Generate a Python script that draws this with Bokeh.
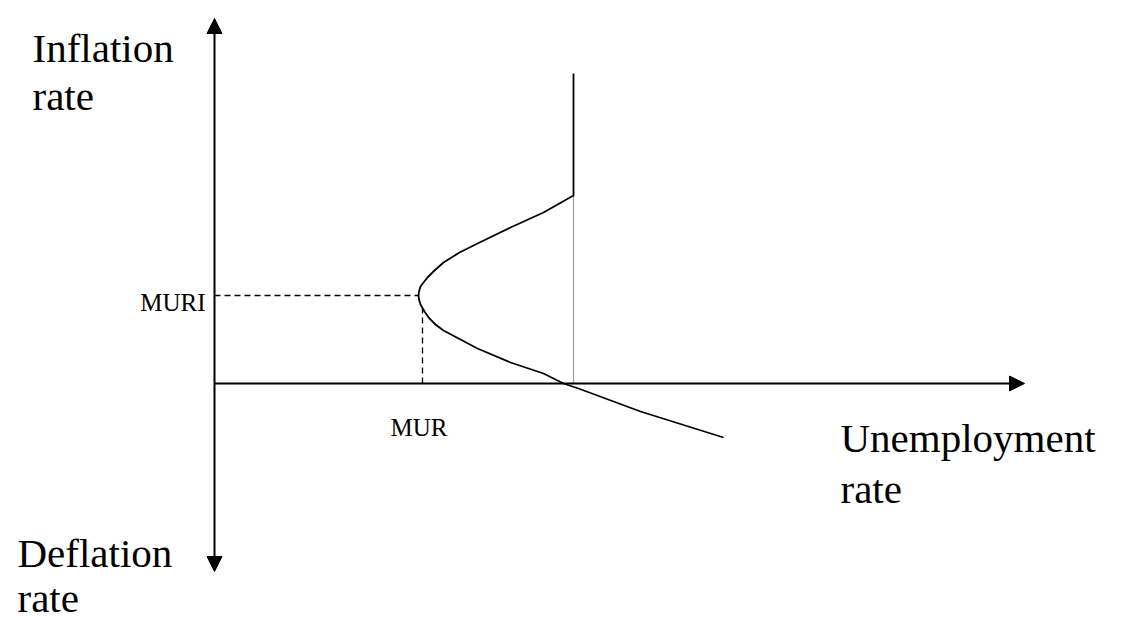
from bokeh.plotting import figure
from bokeh.models import Range1d, Arrow, NormalHead
from bokeh.core.properties import value
from bokeh.embed import file_html
from bokeh.resources import INLINE

# Curve (unemployment, inflation), origin at axes crossing
curve_u = [509, 426, 364, 349, 329, 296, 263, 229, 221, 215, 210, 206, 204.5, 204,
           204.5, 206, 209, 213, 220, 229, 245, 263, 296, 329, 359, 359]
curve_pi = [-54, -28, -5, 0, 10, 21, 35, 53, 59, 65, 72, 79, 84, 88,
            92, 97, 101, 106, 113, 121, 131, 140, 156, 171, 188, 310]

MUR = 208
MURI = 88
vertex_u = 204
kink_u = 359
kink_pi = 188

axis_top = 365
axis_bottom = -188
axis_right = 810

FONT = value("Liberation Serif")

p = figure(width=1136, height=621, output_backend="svg", toolbar_location=None,
           x_range=Range1d(-214, 922), y_range=Range1d(-238, 383), min_border=0)
p.axis.visible = False
p.grid.visible = False
p.outline_line_color = None
p.background_fill_color = "white"

# axes with arrows
p.add_layout(Arrow(x_start=0, y_start=axis_bottom, x_end=0, y_end=axis_top,
                   line_width=2, line_color="black",
                   start=NormalHead(size=15, fill_color="black", line_color="black"),
                   end=NormalHead(size=15, fill_color="black", line_color="black")))
p.add_layout(Arrow(x_start=0, y_start=0, x_end=axis_right, y_end=0,
                   line_width=2, line_color="black",
                   end=NormalHead(size=15, fill_color="black", line_color="black")))

# dashed guide lines
p.line([0, vertex_u], [MURI, MURI], line_dash="6 4", line_color="black", line_width=1.3)
p.line([MUR, MUR], [0, MURI - 10], line_dash="6 4", line_color="black", line_width=1.3)
# dotted vertical
p.line([kink_u, kink_u], [0, kink_pi], line_dash="1 1", line_color="#444444", line_width=1.2)

# curve
p.line(curve_u, curve_pi, line_color="black", line_width=1.8, line_join="round")

big = dict(text_font=FONT, text_font_size="41px", text_color="black", text_baseline="alphabetic")
small = dict(text_font=FONT, text_font_size="25px", text_color="black", text_baseline="alphabetic")

p.text(x=[-182, -182], y=[336, 288], text=["Inflation", "rate"], **big)
p.text(x=[-197, -197], y=[-169, -214], text=["Deflation", "rate"], **big)
p.text(x=[626, 626], y=[-54, -105], text=["Unemployment", "rate"], **big)
p.text(x=[-9], y=[81], text=["MURI"], text_align="right", **small)
p.text(x=[176], y=[-44], text=["MUR"], **small)

open("out.html", "w").write(file_html(p, INLINE))
